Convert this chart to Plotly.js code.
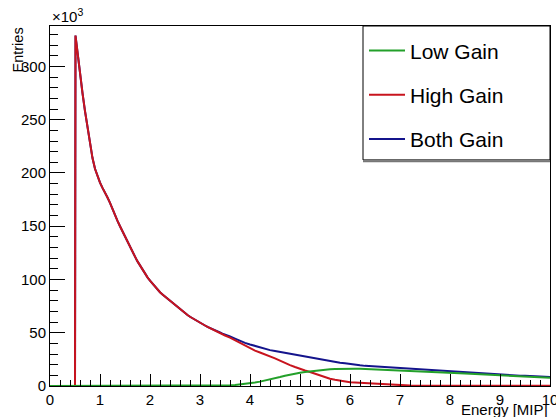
<!DOCTYPE html>
<html>
<head>
<meta charset="utf-8">
<script src="https://cdn.plot.ly/plotly-3.0.1.min.js"></script>
<style>html,body{margin:0;padding:0;background:#fff;}#chart{width:556px;height:417px;}</style>
</head>
<body>
<div id="chart"></div>
<script>
// Energy [MIP] sample points (shared by all series)
const energy = [0, 0.5, 0.51,
  0.55, 0.6, 0.65, 0.7, 0.75, 0.8, 0.85, 0.9, 0.95, 1.0,
  1.05, 1.1, 1.15, 1.2, 1.25, 1.3, 1.35, 1.4, 1.45, 1.5,
  1.55, 1.6, 1.65, 1.7, 1.75, 1.8, 1.85, 1.9, 1.95, 2.0,
  2.05, 2.1, 2.15, 2.2, 2.25, 2.3, 2.35, 2.4, 2.45, 2.5,
  2.55, 2.6, 2.65, 2.7, 2.75, 2.8, 2.85, 2.9, 2.95, 3.0,
  3.05, 3.1, 3.15, 3.2, 3.25, 3.3, 3.35, 3.4, 3.45, 3.5,
  3.6, 3.7, 3.8, 3.9,
  4.0, 4.1, 4.2, 4.3, 4.4, 4.5, 4.6, 4.7, 4.8, 4.9,
  5.0, 5.1, 5.2, 5.3, 5.4, 5.5, 5.6, 5.7, 5.8, 5.9,
  6.0, 6.1, 6.2, 6.3, 6.4, 6.5, 6.6, 6.7, 6.8, 6.9,
  7.0, 7.1, 7.2, 7.3, 7.4, 7.5, 7.6, 7.7, 7.8, 7.9,
  8.0, 8.1, 8.2, 8.3, 8.4, 8.5, 8.6, 8.7, 8.8, 8.9,
  9.0, 9.1, 9.2, 9.3, 9.4, 9.5, 9.6, 9.7, 9.8, 9.9, 10.0];

// Entries (x10^3)
const highGain = [0, 0, 329,
  312, 292, 275, 258, 242, 228, 214, 204, 197, 191,
  186, 182, 177, 172, 166, 160, 155, 150, 145, 140,
  135, 130.5, 126, 121.5, 117, 113, 109, 105.5, 102, 99,
  96, 93, 90.5, 88, 86, 84, 82, 80, 78, 76,
  74, 72, 70, 68.2, 66.6, 65, 63.5, 62, 60.5, 59.2,
  58, 56.8, 55.5, 54.3, 53.2, 52, 51, 49.8, 48.6, 47.4,
  45.5, 43, 40.5, 37.5,
  35, 33.2, 31.5, 29.8, 28, 26, 23.8, 21.5, 19.6, 17.8,
  16, 14.6, 13.2, 11.5, 9.8, 8.2, 6.8, 5.8, 4.9, 4.2,
  3.6, 3.3, 3.0, 2.6, 2.3, 1.9, 1.6, 1.2, 0.9, 0.7,
  0.5, 0.4, 0.4, 0.3, 0.3, 0.3, 0.25, 0.25, 0.2, 0.2,
  0.2, 0.2, 0.2, 0.2, 0.2, 0.2, 0.2, 0.2, 0.2, 0.2,
  0.2, 0.2, 0.2, 0.2, 0.2, 0.2, 0.2, 0.2, 0.2, 0.2, 0.2];

const bothGain = [0, 0, 329,
  312, 292, 275, 258, 242, 228, 214, 204, 197, 191,
  186, 182, 177, 172, 166, 160, 155, 150, 145, 140,
  135, 130.5, 126, 121.5, 117, 113, 109, 105.5, 102, 99,
  96, 93, 90.5, 88, 86, 84, 82, 80, 78, 76,
  74, 72, 70, 68.2, 66.6, 65, 63.5, 62, 60.5, 59.2,
  58, 56.8, 55.5, 54.3, 53.2, 52, 51, 50.2, 49.2, 48.1,
  46.5, 44.5, 42.3, 40.5,
  39, 37.6, 36.2, 34.9, 33.7, 32.8, 31.9, 31.2, 30.3, 29.4,
  28.5, 27.6, 26.6, 25.9, 24.8, 24.1, 23.4, 22.6, 21.9, 21.3,
  20.5, 19.9, 19.4, 18.9, 18.6, 18.2, 17.9, 17.5, 17.1, 16.8,
  16.5, 16.1, 15.7, 15.4, 15, 14.8, 14.4, 14.2, 13.8, 13.6,
  13.3, 13, 12.7, 12.5, 12.1, 11.9, 11.6, 11.4, 11.1, 10.9,
  10.6, 10.5, 10.2, 10, 9.7, 9.6, 9.3, 9.1, 8.9, 8.7, 8.5];

const lowGain = [0, 0, 0,
  0, 0, 0, 0, 0, 0, 0, 0, 0, 0,
  0, 0, 0, 0, 0, 0, 0, 0, 0, 0,
  0, 0, 0, 0, 0, 0, 0, 0, 0, 0,
  0, 0, 0, 0, 0, 0, 0, 0, 0, 0,
  0, 0, 0, 0, 0, 0, 0, 0, 0, 0,
  0, 0, 0, 0, 0, 0, 0, 0, 0.1, 0.3,
  0.6, 0.9, 1.4, 1.8,
  2.3, 3.2, 4.1, 5, 6, 7.2, 8.4, 9.6, 10.7, 11.6,
  12.5, 13.1, 13.7, 14.3, 14.8, 15.3, 15.7, 15.9, 16.1, 16.2,
  16.2, 16.1, 16.1, 15.9, 15.7, 15.6, 15.5, 15.4, 15.2, 15.1,
  15, 14.8, 14.5, 14.3, 14, 13.8, 13.5, 13.3, 13, 12.7,
  12.5, 12.3, 11.9, 11.7, 11.4, 11.2, 10.9, 10.6, 10.4, 10.2,
  9.9, 9.7, 9.4, 9.3, 9, 8.8, 8.6, 8.4, 8.2, 8, 7.8];

const seriesNames = ["Low Gain", "High Gain", "Both Gain"];
const colors = {low: "#23a02a", high: "#c8141e", both: "#14148c"};

const FONT = "Liberation Sans, Arial, Helvetica, sans-serif";

const traces = [
  {x: energy, y: bothGain, name: seriesNames[2], type: "scatter", mode: "lines",
   line: {color: colors.both, width: 2}, legendgroup: "c", legendrank: 3},
  {x: energy, y: highGain, name: seriesNames[1], type: "scatter", mode: "lines",
   line: {color: colors.high, width: 2}, legendgroup: "b", legendrank: 2},
  {x: energy, y: lowGain, name: seriesNames[0], type: "scatter", mode: "lines",
   line: {color: colors.low, width: 2}, legendgroup: "a", legendrank: 1}
];

const layout = {
  width: 556, height: 417,
  margin: {l: 50, r: 6, t: 26, b: 31, pad: 0},
  paper_bgcolor: "#fff", plot_bgcolor: "#fff",
  font: {family: FONT, color: "#000", size: 15},
  showlegend: true,
  legend: {
    x: 0.628, xanchor: "left", y: 0.988, yanchor: "top",
    bgcolor: "rgba(0,0,0,0)", borderwidth: 0,
    font: {family: FONT, size: 21, color: "#000"},
    traceorder: "grouped", tracegroupgap: 14, itemwidth: 36
  },
  xaxis: {
    range: [0, 10], dtick: 1, tick0: 0,
    ticks: "inside", ticklen: 12, tickwidth: 1, tickcolor: "#000",
    minor: {dtick: 0.2, ticks: "inside", ticklen: 6, tickwidth: 1, tickcolor: "#000"},
    showline: true, linecolor: "#000", linewidth: 1, mirror: true,
    showgrid: false, zeroline: false, ticklabeloverflow: "allow",
    tickfont: {family: FONT, size: 15, color: "#000"}
  },
  yaxis: {
    range: [0, 338], dtick: 50, tick0: 0,
    ticks: "inside", ticklen: 15, tickwidth: 1, tickcolor: "#000",
    minor: {dtick: 10, ticks: "inside", ticklen: 8, tickwidth: 1, tickcolor: "#000"},
    showline: true, linecolor: "#000", linewidth: 1, mirror: true,
    showgrid: false, zeroline: false,
    tickfont: {family: FONT, size: 15, color: "#000"}
  },
  shapes: [
    {type: "rect", xref: "paper", yref: "paper", x0: 0.626, x1: 1.0, y0: 0.628, y1: 1.0,
     line: {color: "#000", width: 1}, fillcolor: "rgba(0,0,0,0)"},
    {type: "line", xref: "paper", yref: "paper", x0: 0.626, x1: 1.0, y0: 0.624, y1: 0.624,
     line: {color: "#777", width: 2}}
  ],
  annotations: [
    {text: "Entries", xref: "paper", yref: "paper", x: -0.066, y: 1.0, xanchor: "center", yanchor: "top",
     textangle: -90, showarrow: false, font: {family: FONT, size: 14.5, color: "#000"}},
    {text: "×10<sup>3</sup>", xref: "paper", yref: "paper", x: 0.0, y: 1.0, xanchor: "left", yanchor: "bottom",
     showarrow: false, font: {family: FONT, size: 15, color: "#000"}, yshift: -1},
    {text: "Energy [MIP]", xref: "paper", yref: "paper", x: 1.0, y: -0.065, xanchor: "right", yanchor: "middle",
     showarrow: false, font: {family: FONT, size: 15, color: "#000"}}
  ]
};

Plotly.newPlot("chart", traces, layout, {displayModeBar: false, staticPlot: true});
</script>
</body>
</html>
